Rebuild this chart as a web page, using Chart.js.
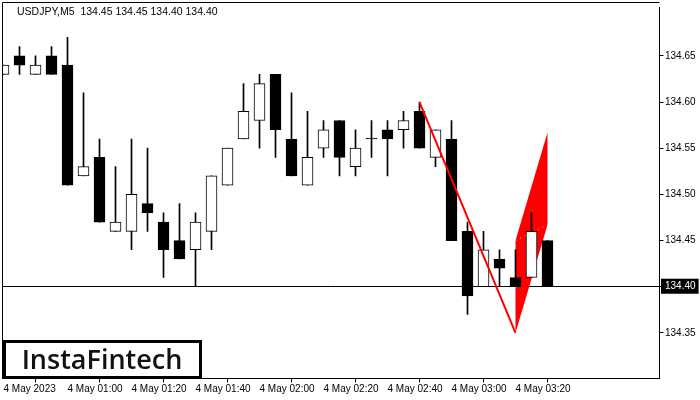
<!DOCTYPE html>
<html>
<head>
<meta charset="utf-8">
<script src="https://cdn.jsdelivr.net/npm/chart.js@4.4.0/dist/chart.umd.min.js"></script>
<style>
  html, body { margin: 0; padding: 0; background: #fff; }
</style>
</head>
<body>
<canvas id="chart" width="700" height="400"></canvas>
<script>
// USDJPY M5 candles (index = bar number, 5 min each)
const openP  = [134.63, 134.65, 134.63, 134.65, 134.64, 134.52, 134.54, 134.46, 134.46, 134.49,
                134.47, 134.45, 134.44, 134.46, 134.51, 134.56, 134.58, 134.63, 134.56, 134.51,
                134.55, 134.58, 134.53, 134.56, 134.57, 134.57, 134.59, 134.54, 134.56, 134.46,
                134.40, 134.43, 134.41, 134.41, 134.45];
const highP  = [134.64, 134.66, 134.65, 134.66, 134.67, 134.61, 134.56, 134.53, 134.56, 134.55,
                134.48, 134.49, 134.48, 134.52, 134.55, 134.62, 134.63, 134.63, 134.61, 134.59,
                134.58, 134.58, 134.57, 134.58, 134.58, 134.59, 134.60, 134.57, 134.58, 134.47,
                134.46, 134.44, 134.44, 134.48, 134.45];
const lowP   = [134.63, 134.63, 134.63, 134.63, 134.51, 134.52, 134.47, 134.46, 134.44, 134.46,
                134.41, 134.43, 134.40, 134.44, 134.51, 134.56, 134.55, 134.54, 134.52, 134.51,
                134.54, 134.52, 134.52, 134.54, 134.52, 134.55, 134.55, 134.53, 134.45, 134.37,
                134.40, 134.40, 134.40, 134.41, 134.40];
const closeP = [134.64, 134.64, 134.64, 134.63, 134.51, 134.53, 134.47, 134.47, 134.50, 134.48,
                134.44, 134.43, 134.47, 134.52, 134.55, 134.59, 134.62, 134.57, 134.52, 134.54,
                134.57, 134.54, 134.55, 134.56, 134.56, 134.58, 134.55, 134.57, 134.45, 134.39,
                134.44, 134.42, 134.40, 134.46, 134.40];

const xTickIdx    = [0, 4, 8, 12, 16, 20, 24, 28, 32];
const xTickLabels = ["4 May 2023", "4 May 01:00", "4 May 01:20", "4 May 01:40", "4 May 02:00",
                     "4 May 02:20", "4 May 02:40", "4 May 03:00", "4 May 03:20"];
const yTickVals   = [134.35, 134.40, 134.45, 134.50, 134.55, 134.60, 134.65];
const priceLine   = 134.40;

// pattern: pole (bar, price) and flag corners
const poleX = [26, 32];
const poleY = [134.60, 134.35];
const flagX = [32, 34, 34, 32, 32];
const flagY = [134.45, 134.567, 134.467, 134.35, 134.45];
const seamX = [32, 34];
const seamY = [134.45, 134.467];

const titleText = "USDJPY,M5  134.45 134.45 134.40 134.40";

const bars = openP.map((o, i) => i);
const isUp = i => closeP[i] > openP[i];

// frame, title and logo drawn on top
const decor = {
  id: "decor",
  afterDraw(chart) {
    const ctx = chart.ctx;
    ctx.save();
    ctx.strokeStyle = "#000";
    ctx.lineWidth = 1;
    ctx.beginPath();
    ctx.moveTo(2.5, 378.5);
    ctx.lineTo(2.5, 2.5);
    ctx.lineTo(659.5, 2.5);
    ctx.stroke();

    ctx.fillStyle = "#000";
    ctx.font = "10.5px 'Liberation Sans', Arial, sans-serif";
    ctx.textBaseline = "alphabetic";
    ctx.fillText(titleText, 17, 15);

    // logo
    ctx.fillStyle = "#fff";
    ctx.fillRect(4.5, 341.5, 196, 36);
    ctx.lineWidth = 3;
    ctx.strokeRect(4.5, 341.5, 196, 36);
    ctx.fillStyle = "#111";
    ctx.font = "600 27px 'Open Sans', Lato, sans-serif";
    ctx.textAlign = "center";
    ctx.fillText("InstaFintech", 102, 369);
    ctx.restore();
  }
};

new Chart(document.getElementById("chart"), {
  type: "bar",
  data: {
    datasets: [
      {
        type: "line",
        label: "pole",
        data: poleX.map((x, i) => ({ x: x, y: poleY[i] })),
        borderColor: "#ff0000",
        borderWidth: 2,
        pointRadius: 0,
        fill: false,
        order: 0
      },
      {
        label: "body",
        data: bars.map(i => ({ x: i, y: [openP[i], closeP[i]] })),
        backgroundColor: bars.map(i => isUp(i) ? "#fff" : "#000"),
        borderColor: "#000",
        borderWidth: 1,
        borderSkipped: false,
        barThickness: 11,
        minBarLength: 1,
        grouped: false,
        order: 1
      },
      {
        label: "wick",
        data: bars.map(i => ({ x: i, y: [lowP[i], highP[i]] })),
        backgroundColor: "#000",
        borderWidth: 0,
        barThickness: 1,
        grouped: false,
        order: 2
      },
      {
        type: "line",
        label: "seam",
        data: seamX.map((x, i) => ({ x: x, y: seamY[i] })),
        borderColor: "rgba(255,255,255,0.8)",
        borderWidth: 1,
        borderDash: [1, 4],
        pointRadius: 0,
        fill: false,
        order: 3
      },
      {
        type: "line",
        label: "flag",
        data: flagX.map((x, i) => ({ x: x, y: flagY[i] })),
        borderColor: "#ff0000",
        borderWidth: 0,
        backgroundColor: "#ff0000",
        pointRadius: 0,
        tension: 0,
        fill: "shape",
        order: 4
      }
    ]
  },
  options: {
    responsive: false,
    animation: false,
    layout: { padding: { left: 2.5, top: 2.5, right: 0, bottom: 0 } },
    plugins: { legend: { display: false }, tooltip: { enabled: false } },
    scales: {
      x: {
        type: "linear",
        offset: false,
        min: -0.0625,
        max: 41,
        afterBuildTicks: scale => { scale.ticks = xTickIdx.map(v => ({ value: v })); },
        afterFit: scale => { scale.height = 21.5; },
        border: { display: true, color: "#000", width: 1 },
        grid: { drawOnChartArea: false, drawTicks: true, tickLength: 4, tickColor: "#000" },
        ticks: {
          autoSkip: false,
          maxRotation: 0,
          align: "start",
          padding: 1,
          color: "#000",
          font: { family: "'Liberation Sans', Arial, sans-serif", size: 10 },
          callback: v => xTickLabels[xTickIdx.indexOf(v)]
        }
      },
      y: {
        position: "right",
        min: 134.30064,
        max: 134.70235,
        afterBuildTicks: scale => { scale.ticks = yTickVals.map(v => ({ value: v })); },
        afterFit: scale => { scale.width = 40.5; },
        border: { display: true, color: "#000", width: 1 },
        grid: {
          drawOnChartArea: true,
          drawTicks: true,
          tickLength: 4,
          tickColor: "#000",
          color: c => (c.tick && c.tick.value === priceLine) ? "#000" : "rgba(0,0,0,0)"
        },
        ticks: {
          padding: 1.5,
          font: { family: "'Liberation Sans', Arial, sans-serif", size: 10 },
          color: c => (c.tick && c.tick.value === priceLine) ? "#fff" : "#000",
          showLabelBackdrop: c => !!(c.tick && c.tick.value === priceLine),
          backdropColor: "#000",
          backdropPadding: { left: 4, right: 3, top: 2, bottom: 1 },
          callback: v => v.toFixed(2)
        }
      }
    }
  },
  plugins: [decor]
});
</script>
</body>
</html>
